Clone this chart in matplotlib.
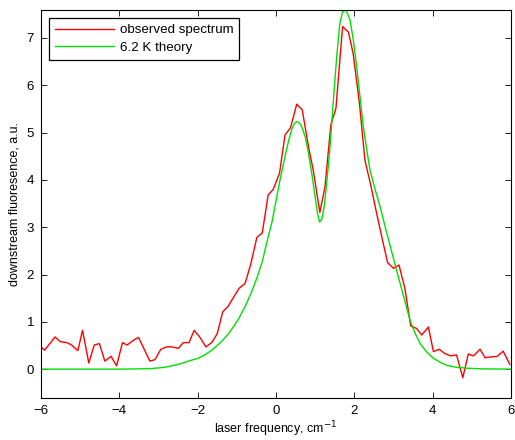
import matplotlib
matplotlib.use("Agg")
import matplotlib.pyplot as plt

plt.rcParams['font.family'] = ['Liberation Sans', 'DejaVu Sans']

obs_x = [-6.00, -5.91, -5.64, -5.51, -5.34, -5.22, -5.06, -4.94, -4.78, -4.64,
         -4.51, -4.37, -4.21, -4.07, -3.92, -3.80, -3.64, -3.51, -3.22, -3.09,
         -2.94, -2.79, -2.66, -2.49, -2.37, -2.22, -2.09, -1.94, -1.79, -1.64,
         -1.50, -1.36, -1.22, -1.09, -0.94, -0.79, -0.65, -0.49, -0.35, -0.20,
         -0.07, 0.09, 0.23, 0.37, 0.53, 0.67, 0.83, 0.95, 1.12, 1.25,
         1.40, 1.53, 1.70, 1.85, 1.97, 2.13, 2.27, 2.43, 2.57, 2.70,
         2.85, 3.00, 3.14, 3.29, 3.44, 3.59, 3.72, 3.89, 4.02, 4.17,
         4.31, 4.46, 4.61, 4.77, 4.91, 5.04, 5.21, 5.34, 5.51, 5.65,
         5.80, 5.97]
obs_y = [0.47, 0.40, 0.68, 0.58, 0.56, 0.51, 0.39, 0.82, 0.13, 0.51,
         0.54, 0.17, 0.27, 0.07, 0.56, 0.51, 0.61, 0.67, 0.17, 0.20,
         0.42, 0.47, 0.47, 0.44, 0.56, 0.56, 0.82, 0.67, 0.47, 0.56,
         0.75, 1.21, 1.33, 1.51, 1.71, 1.81, 2.20, 2.78, 2.88, 3.68,
         3.80, 4.14, 4.95, 5.10, 5.60, 5.48, 4.70, 4.21, 3.31, 3.85,
         5.16, 5.51, 7.24, 7.12, 6.67, 5.62, 4.42, 3.85, 3.29, 2.80,
         2.25, 2.13, 2.20, 1.71, 0.91, 0.86, 0.72, 0.89, 0.37, 0.42,
         0.33, 0.28, 0.30, -0.18, 0.32, 0.28, 0.42, 0.24, 0.26, 0.27,
         0.38, 0.10]

th_x = [-6.0, -5.0, -4.0, -3.5, -3.22, -3.0, -2.8, -2.66, -2.5, -2.37, -2.2,
        -1.98, -1.8, -1.64, -1.5, -1.36, -1.2, -1.09, -0.95, -0.79, -0.65,
        -0.49, -0.35, -0.24, -0.1, 0.02, 0.12, 0.23, 0.32, 0.40, 0.47, 0.53,
        0.60, 0.66, 0.75, 0.83, 0.92, 1.00, 1.06, 1.11, 1.17, 1.23, 1.30,
        1.38, 1.46, 1.55, 1.63, 1.70, 1.76, 1.82, 1.89, 1.97, 2.06, 2.15,
        2.23, 2.32, 2.40, 2.53, 2.66, 2.78, 2.91, 3.04, 3.17, 3.30, 3.42,
        3.55, 3.68, 3.85, 4.02, 4.20, 4.36, 4.60, 4.87, 5.3, 6.0]
th_y = [0.0, 0.0, 0.0, 0.005, 0.01, 0.025, 0.045, 0.07, 0.10, 0.13, 0.18,
        0.23, 0.31, 0.40, 0.50, 0.61, 0.76, 0.89, 1.07, 1.32, 1.58,
        1.92, 2.27, 2.66, 3.12, 3.64, 4.07, 4.49, 4.82, 5.06, 5.19, 5.23,
        5.20, 5.12, 4.90, 4.56, 4.10, 3.64, 3.29, 3.11, 3.17, 3.43, 3.98,
        4.70, 5.62, 6.60, 7.31, 7.55, 7.59, 7.53, 7.38, 6.98, 6.39, 5.72,
        5.12, 4.62, 4.21, 3.80, 3.43, 3.03, 2.62, 2.21, 1.81, 1.41, 1.04,
        0.76, 0.54, 0.36, 0.23, 0.14, 0.08, 0.04, 0.02, 0.005, 0.0]

fig = plt.figure(figsize=(5.15, 4.4), dpi=100)
ax = fig.add_axes([41/515, 1 - 398/440, 470/515, 388/440])

ax.plot(obs_x, obs_y, color='#ff0000', lw=1.0, label='observed spectrum')
ax.plot(th_x, th_y, color='#00e000', lw=1.0, label='6.2 K theory')

ax.set_xlim(-6, 6)
ax.set_ylim(-0.61, 7.59)
ax.set_xticks([-6, -4, -2, 0, 2, 4, 6])
ax.set_xticklabels(['\u22126', '\u22124', '\u22122', '0', '2', '4', '6'])
ax.set_yticks(range(0, 8))
ax.tick_params(direction='in', top=True, right=True, labelsize=9.5,
               length=4, width=0.6, pad=5)
for s in ax.spines.values():
    s.set_linewidth(0.8)

ax.set_xlabel('laser frequency, cm$^{-1}$', fontsize=9, labelpad=2)
ax.set_ylabel('downstream fluoresence, a.u.', fontsize=9, labelpad=4)

leg = ax.legend(loc='upper left', fontsize=9.6, frameon=True, fancybox=False,
                edgecolor='black', framealpha=1, borderpad=0.45,
                handlelength=4.4, handletextpad=0.45, labelspacing=0.4,
                borderaxespad=0, bbox_to_anchor=(8/470, 1 - 8/388))
leg.get_frame().set_linewidth(0.9)

fig.savefig('out.png', dpi=100)
